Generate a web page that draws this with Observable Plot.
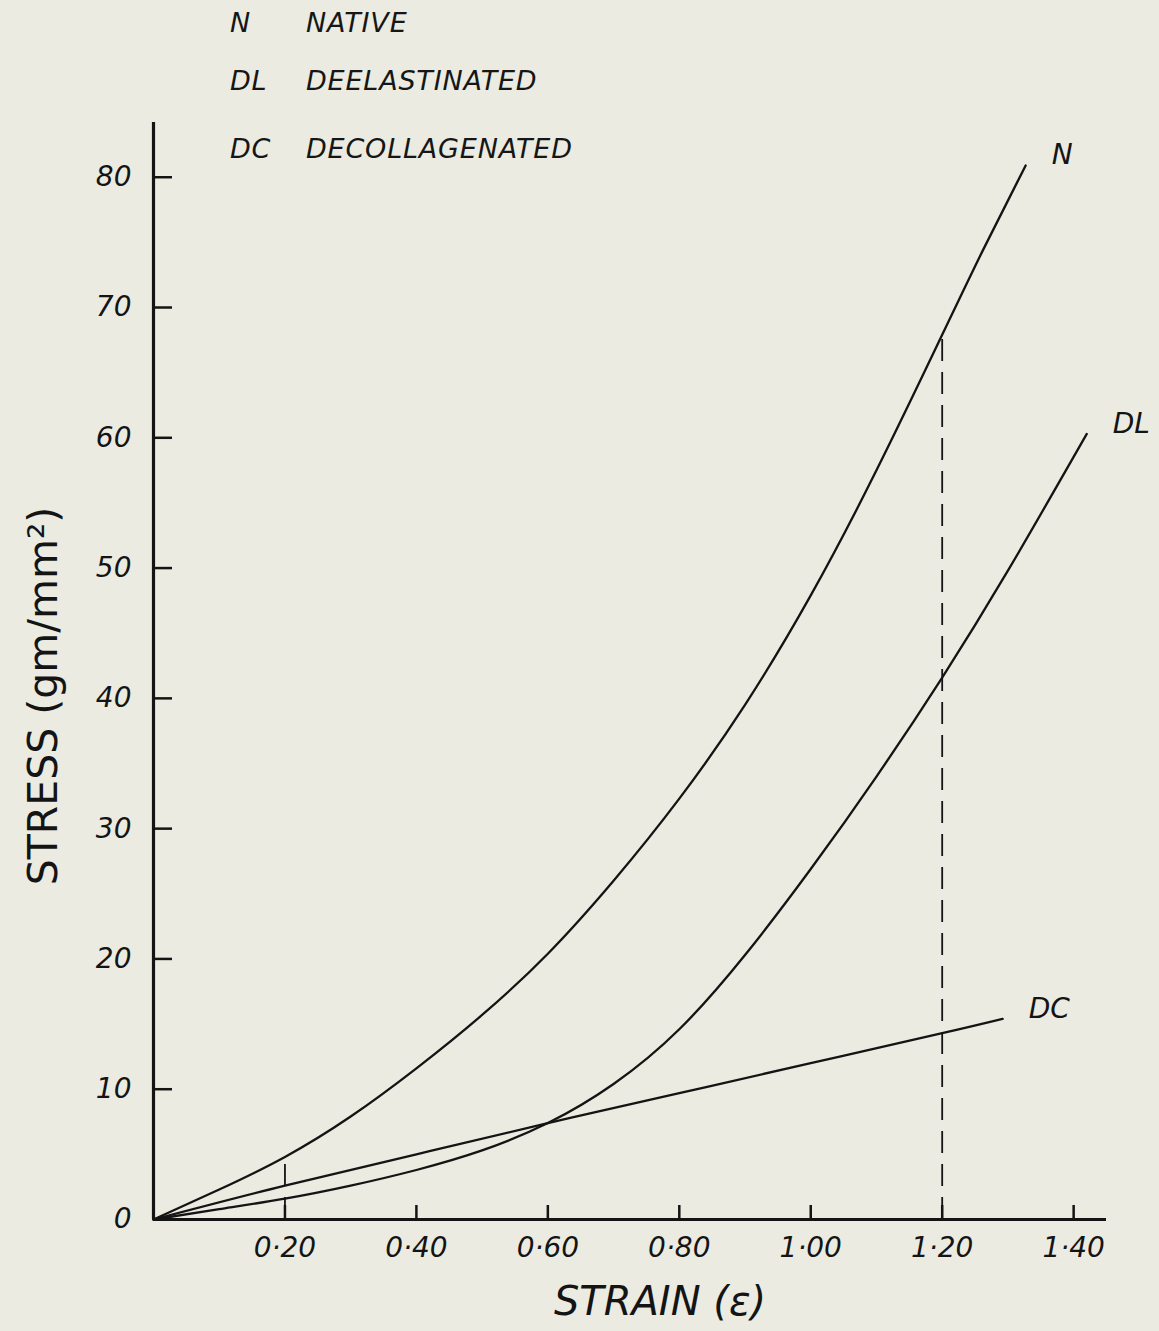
<!DOCTYPE html>
<html>
<head>
<meta charset="utf-8">
<script src="https://cdn.jsdelivr.net/npm/d3@7"></script>
<script src="https://cdn.jsdelivr.net/npm/@observablehq/plot@0.6"></script>
<style>
  html, body { margin: 0; padding: 0; background: #ebebe1; }
  #figure { position: relative; width: 1159px; height: 1331px; }
  #key { position: absolute; left: 0; top: 0; font-family: "DejaVu Sans", sans-serif; font-style: italic; font-size: 27px; letter-spacing: 0.8px; color: #161616; }
  #key div { position: absolute; white-space: nowrap; line-height: 30px; }
</style>
</head>
<body>
<div id="figure"><div id="key"></div></div>
<script>
// Stress–strain curves for native, deelastinated and decollagenated tissue
const strainN  = [0, 0.1, 0.2, 0.3, 0.4, 0.5, 0.6, 0.7, 0.8, 0.9, 1.0, 1.1, 1.2, 1.263, 1.327];
const stressN  = [0, 2.3, 4.8, 7.9, 11.6, 15.7, 20.4, 26.0, 32.3, 39.5, 47.9, 57.5, 67.9, 74.5, 80.9];

const strainDL = [0, 0.1, 0.2, 0.3, 0.4, 0.5, 0.6, 0.7, 0.8, 0.9, 1.0, 1.1, 1.2, 1.3, 1.42];
const stressDL = [0, 0.8, 1.6, 2.6, 3.8, 5.3, 7.4, 10.4, 14.6, 20.3, 26.9, 34.0, 41.6, 49.8, 60.3];

const strainDC = [0, 0.2, 0.4, 0.6, 0.8, 1.0, 1.2, 1.292];
const stressDC = [0, 2.6, 5.0, 7.4, 9.7, 12.0, 14.3, 15.4];

// dashed drop lines from the N curve to the strain axis
const dropStrain = [0.20, 1.20];
const dropStress = [4.8, 67.9];

const xTicks = [0.2, 0.4, 0.6, 0.8, 1.0, 1.2, 1.4];
const yTicks = [0, 10, 20, 30, 40, 50, 60, 70, 80];

const legendCodes = ["N", "DL", "DC"];
const legendNames = ["NATIVE", "DEELASTINATED", "DECOLLAGENATED"];

const ink = "#141414";
const W = 1159, H = 1331;
const M = {top: 122, right: 53, bottom: 112, left: 153};
const plotW = W - M.left - M.right;
const plotH = H - M.top - M.bottom;

const toRows = (xs, ys, code) => xs.map((x, i) => ({strain: x, stress: ys[i], code}));
const series = [
  toRows(strainN, stressN, "N"),
  toRows(strainDL, stressDL, "DL"),
  toRows(strainDC, stressDC, "DC")
];
const curves = series.flat();
const ends = series.map(s => s[s.length - 1]);
const drops = dropStrain.map((x, i) => ({strain: x, stress: dropStress[i]}));

const fmtX = d => d3.format(".2f")(d).replace(".", "\u00b7");

const chart = Plot.plot({
  width: W, height: H,
  marginTop: M.top, marginRight: M.right, marginBottom: M.bottom, marginLeft: M.left,
  style: {background: "transparent", fontFamily: "DejaVu Sans, sans-serif", color: ink, overflow: "visible"},
  x: {domain: [0, 1.45]},
  y: {domain: [0, 84.2]},
  marks: [
    // inward tick marks
    Plot.tickX(xTicks, {x: d => d, stroke: ink, strokeWidth: 2.5, insetTop: plotH - 14}),
    Plot.tickY(yTicks.filter(d => d > 0), {y: d => d, stroke: ink, strokeWidth: 2.5, insetRight: plotW - 19}),
    Plot.axisX({ticks: xTicks, label: null, tickSize: 0, tickPadding: 18, tickFormat: fmtX, fontSize: 28, fontStyle: "italic", fill: ink}),
    Plot.axisY({ticks: yTicks, label: null, tickSize: 0, tickPadding: 22, tickFormat: d3.format("d"), fontSize: 28, fontStyle: "italic", fill: ink}),
    // axis lines
    Plot.ruleX([0], {stroke: ink, strokeWidth: 3.2}),
    Plot.ruleY([0], {stroke: ink, strokeWidth: 3.2}),
    // drop lines
    Plot.ruleX(drops, {x: "strain", y1: 0, y2: "stress", stroke: ink, strokeWidth: 1.8, strokeDasharray: "22,11"}),
    // curves
    Plot.line(curves, {x: "strain", y: "stress", z: "code", curve: "natural", stroke: ink, strokeWidth: 2.3}),
    // curve labels at the end of each curve
    Plot.text(ends, {x: "strain", y: "stress", text: "code", dx: 26, dy: -10, textAnchor: "start", fontSize: 28, fontStyle: "italic", fill: ink}),
    // axis titles
    Plot.text(["STRAIN (\u03b5)"], {frameAnchor: "bottom", dx: 30, dy: 83, textAnchor: "middle", lineAnchor: "middle", fontSize: 40, fontStyle: "italic", fill: ink}),
    Plot.text(["STRESS (gm/mm\u00b2)"], {frameAnchor: "left", dx: -110, dy: 25, rotate: -90, textAnchor: "middle", lineAnchor: "middle", fontSize: 41, fill: ink})
  ]
});

const fig = document.getElementById("figure");
fig.insertBefore(chart, fig.firstChild);
chart.style.position = "absolute";
chart.style.left = "0";
chart.style.top = "0";

// key of abbreviations
const rowTops = [8, 66, 134];
const key = d3.select("#key");
legendCodes.forEach((c, i) => {
  key.append("div").style("left", "230px").style("top", rowTops[i] + "px").text(c);
  key.append("div").style("left", "306px").style("top", rowTops[i] + "px").text(legendNames[i]);
});
</script>
</body>
</html>
